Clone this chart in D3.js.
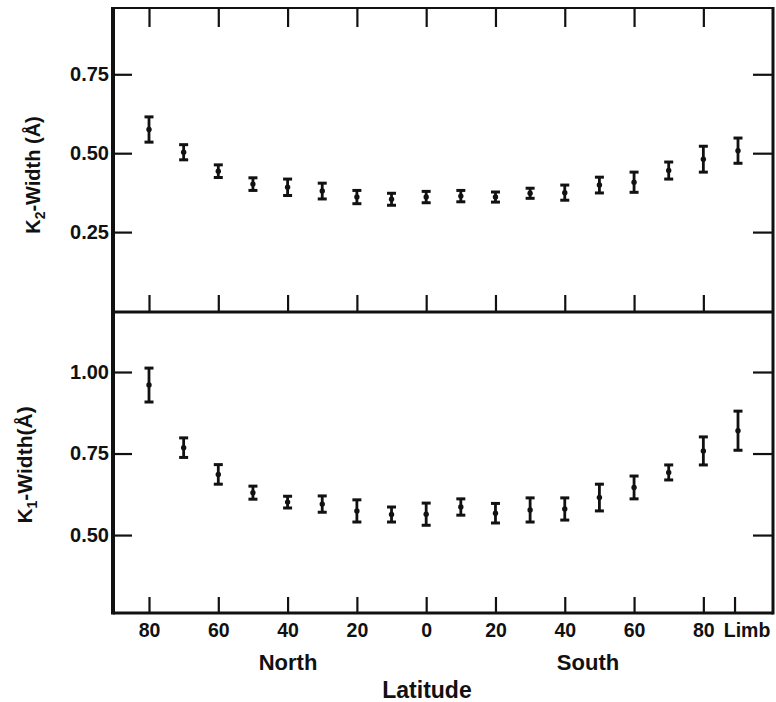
<!DOCTYPE html>
<html>
<head>
<meta charset="utf-8">
<script src="https://cdn.jsdelivr.net/npm/d3@7"></script>
<style>
  html, body { margin: 0; padding: 0; background: #fff; }
  svg { display: block; }
  text { font-family: "Liberation Sans", Arial, sans-serif; font-weight: bold; fill: #111; }
</style>
</head>
<body>
<script>
// ---------- data ----------
const latitudes = [-80, -70, -60, -50, -40, -30, -20, -10, 0, 10, 20, 30, 40, 50, 60, 70, 80, 90]; // 90 = Limb
const k2Width = [0.575, 0.503, 0.443, 0.402, 0.392, 0.380, 0.361, 0.354, 0.361, 0.364, 0.361, 0.373, 0.375, 0.399, 0.408, 0.445, 0.481, 0.508];
const k2Err   = [0.040, 0.024, 0.020, 0.020, 0.026, 0.025, 0.021, 0.019, 0.018, 0.018, 0.016, 0.016, 0.024, 0.025, 0.032, 0.027, 0.041, 0.040];
const k1Width = [0.960, 0.768, 0.686, 0.630, 0.601, 0.595, 0.574, 0.563, 0.564, 0.586, 0.567, 0.577, 0.580, 0.615, 0.646, 0.692, 0.758, 0.820];
const k1Err   = [0.052, 0.030, 0.030, 0.020, 0.018, 0.025, 0.034, 0.023, 0.034, 0.025, 0.030, 0.037, 0.034, 0.041, 0.035, 0.023, 0.043, 0.060];
const xTickValues = [-80, -60, -40, -20, 0, 20, 40, 60, 80, 89];
const xTickLabels = ["80", "60", "40", "20", "0", "20", "40", "60", "80", "Limb"];
const k2Ticks = [0.25, 0.50, 0.75];
const k2TickLabels = ["0.25", "0.50", "0.75"];
const k1Ticks = [0.50, 0.75, 1.00];
const k1TickLabels = ["0.50", "0.75", "1.00"];

// ---------- layout ----------
const W = 776, H = 702;
const pLeft = 113, pRight = 773, pTop = 8, pMid = 312, pBottom = 613;

const svg = d3.select("body").append("svg").attr("width", W).attr("height", H);
svg.append("rect").attr("width", W).attr("height", H).attr("fill", "#fff");

const x = d3.scaleLinear().domain([-80, 90]).range([149, 738]);
const yTop = d3.scaleLinear().domain([0, 0.96]).range([311, pTop]);
const yBot = d3.scaleLinear().domain([0.261, 1.184]).range([pBottom, pMid]);

// ---------- axes (ticks inward) ----------
function yAxes(scale, ticks, labels) {
  const fmt = d => labels[ticks.indexOf(d)];
  const gl = svg.append("g").attr("transform", `translate(${pLeft},0)`)
    .call(d3.axisLeft(scale).tickValues(ticks).tickSize(-19).tickPadding(4).tickFormat(fmt));
  gl.select(".domain").remove();
  gl.selectAll(".tick line").attr("stroke", "#111").attr("stroke-width", 2.2);
  gl.selectAll(".tick text").style("font-size", "20px").attr("fill", "#111");
  const gr = svg.append("g").attr("transform", `translate(${pRight},0)`)
    .call(d3.axisRight(scale).tickValues(ticks).tickSize(-20).tickFormat(""));
  gr.select(".domain").remove();
  gr.selectAll(".tick line").attr("stroke", "#111").attr("stroke-width", 2.2);
}
yAxes(yTop, k2Ticks, k2TickLabels);
yAxes(yBot, k1Ticks, k1TickLabels);

const topTicks = xTickValues.filter(v => v <= 80);
function xTickOnly(y, size, ticks) {
  const g = svg.append("g").attr("transform", `translate(0,${y})`)
    .call(d3.axisBottom(x).tickValues(ticks).tickSize(size).tickFormat(""));
  g.select(".domain").remove();
  g.selectAll(".tick line").attr("stroke", "#111").attr("stroke-width", 2.2);
}
xTickOnly(pTop, 19, topTicks);      // top edge of upper panel, pointing down
xTickOnly(pMid, -17, topTicks);     // bottom edge of upper panel, pointing up

const gx = svg.append("g").attr("transform", `translate(0,${pBottom})`)
  .call(d3.axisBottom(x).tickValues(xTickValues).tickSize(-16).tickPadding(10)
    .tickFormat(d => xTickLabels[xTickValues.indexOf(d)]));
gx.select(".domain").remove();
gx.selectAll(".tick line").attr("stroke", "#111").attr("stroke-width", 2.2);
gx.selectAll(".tick text").style("font-size", "19.5px").attr("fill", "#111")
  .attr("dx", d => d === 89 ? 12 : 0);

// ---------- frame ----------
const frame = svg.append("g").attr("stroke", "#111").attr("fill", "none");
frame.append("line").attr("x1", pLeft).attr("x2", pRight).attr("y1", pTop).attr("y2", pTop).attr("stroke-width", 2);
frame.append("line").attr("x1", pLeft).attr("x2", pRight).attr("y1", pMid).attr("y2", pMid).attr("stroke-width", 3);
frame.append("line").attr("x1", pLeft).attr("x2", pRight).attr("y1", pBottom).attr("y2", pBottom).attr("stroke-width", 3);
frame.append("line").attr("x1", pLeft).attr("x2", pLeft).attr("y1", pTop - 1).attr("y2", pBottom + 1.5).attr("stroke-width", 4);
frame.append("line").attr("x1", pRight).attr("x2", pRight).attr("y1", pTop - 1).attr("y2", pBottom + 1.5).attr("stroke-width", 3);

// ---------- error bars ----------
function errorBars(scale, vals, errs) {
  const data = latitudes.map((lat, i) => ({ lat, v: vals[i], e: errs[i] }));
  const g = svg.append("g").attr("stroke", "#111").attr("fill", "#111");
  const bars = g.selectAll("g.eb").data(data).join("g").attr("class", "eb");
  bars.append("line")
    .attr("x1", d => x(d.lat)).attr("x2", d => x(d.lat))
    .attr("y1", d => scale(d.v + d.e)).attr("y2", d => scale(d.v - d.e))
    .attr("stroke-width", 2.8);
  bars.append("line")
    .attr("x1", d => x(d.lat) - 4.5).attr("x2", d => x(d.lat) + 4.5)
    .attr("y1", d => scale(d.v + d.e)).attr("y2", d => scale(d.v + d.e))
    .attr("stroke-width", 3);
  bars.append("line")
    .attr("x1", d => x(d.lat) - 4.5).attr("x2", d => x(d.lat) + 4.5)
    .attr("y1", d => scale(d.v - d.e)).attr("y2", d => scale(d.v - d.e))
    .attr("stroke-width", 3);
  bars.append("circle")
    .attr("cx", d => x(d.lat)).attr("cy", d => scale(d.v)).attr("r", 2.7).attr("stroke", "none");
}
errorBars(yTop, k2Width, k2Err);
errorBars(yBot, k1Width, k1Err);

// ---------- titles ----------
const t2 = svg.append("text").attr("transform", "translate(40,175) rotate(-90)")
  .attr("text-anchor", "middle").style("font-size", "20px");
t2.append("tspan").text("K");
t2.append("tspan").attr("dy", 5).style("font-size", "14px").text("2");
t2.append("tspan").attr("dy", -5).text("-Width (Å)");

const t1 = svg.append("text").attr("transform", "translate(32,465) rotate(-90)")
  .attr("text-anchor", "middle").style("font-size", "21px");
t1.append("tspan").text("K");
t1.append("tspan").attr("dy", 5).style("font-size", "14px").text("1");
t1.append("tspan").attr("dy", -5).text("-Width(Å)");

svg.append("text").attr("x", 288).attr("y", 670).attr("text-anchor", "middle").style("font-size", "22px").text("North");
svg.append("text").attr("x", 588).attr("y", 670).attr("text-anchor", "middle").style("font-size", "22px").text("South");
svg.append("text").attr("x", 427).attr("y", 698).attr("text-anchor", "middle").style("font-size", "23px").text("Latitude");
</script>
</body>
</html>
